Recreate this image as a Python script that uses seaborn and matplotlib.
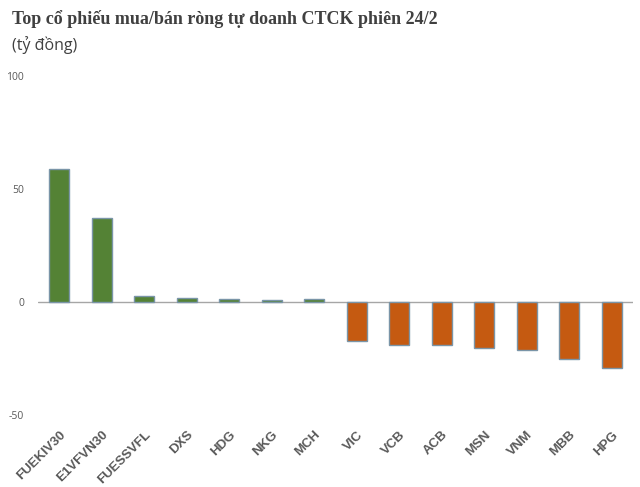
import matplotlib
matplotlib.use("Agg")
import matplotlib.pyplot as plt
import seaborn as sns
import pandas as pd

# net buy/sell of proprietary trading, billion VND
tickers = ['FUEKIV30', 'E1VFVN30', 'FUESSVFL', 'DXS', 'HDG', 'NKG', 'MCH',
           'VIC', 'VCB', 'ACB', 'MSN', 'VNM', 'MBB', 'HPG']
values = [58.7, 37.0, 2.6, 1.8, 1.3, 0.9, 1.3,
          -17.3, -19.0, -19.0, -20.5, -21.4, -25.4, -29.3]

green = '#548235'
orange = '#C55A11'

df = pd.DataFrame({'ticker': tickers, 'value': values})
colors = [green if v > 0 else orange for v in values]

sns.set_style('white')
plt.rcParams['font.family'] = ['Open Sans', 'DejaVu Sans']
plt.rcParams['axes.unicode_minus'] = False

fig = plt.figure(figsize=(6.4, 4.87), dpi=100)
ax = fig.add_axes([38 / 640, 1 - 415 / 487, 595 / 640, 339 / 487])

sns.barplot(data=df, x='ticker', y='value', hue='ticker', palette=colors,
            legend=False, width=0.47, edgecolor='#7A95A8', linewidth=1,
            saturation=1, ax=ax)

ax.axhline(0, color='#A6A6A6', linewidth=1, zorder=0.5)
ax.set_ylim(-50, 100)
ax.set_xlim(-0.5, 13.5)
ax.set_yticks([-50, 0, 50, 100])
ax.set_xlabel('')
ax.set_ylabel('')
sns.despine(ax=ax, left=True, bottom=True)
ax.tick_params(axis='y', length=0, pad=10, labelsize=7.5, labelcolor='#595959')
ax.tick_params(axis='x', length=0, pad=10)
for lab in ax.get_xticklabels():
    lab.set_rotation(45)
    lab.set_ha('right')
    lab.set_rotation_mode('anchor')
    lab.set_fontfamily(['Liberation Sans', 'DejaVu Sans'])
    lab.set_fontweight('bold')
    lab.set_fontsize(9.5)
    lab.set_color('#595959')

fig.text(12 / 640, 1 - 23.5 / 487, 'Top cổ phiếu mua/bán ròng tự doanh CTCK phiên 24/2',
         family=['Liberation Serif', 'DejaVu Serif'], weight='bold', size=13,
         color='#404040', va='baseline', ha='left')
fig.text(12 / 640, 1 - 50 / 487, '(tỷ đồng)', size=11.5, color='#404040',
         va='baseline', ha='left')

fig.savefig('out.png', dpi=100)
